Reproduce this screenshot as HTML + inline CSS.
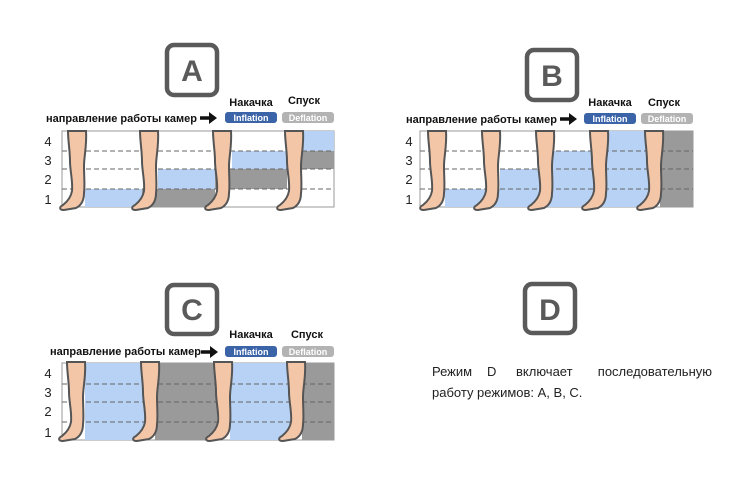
<!DOCTYPE html>
<html><head><meta charset="utf-8"><style>
html,body{margin:0;padding:0;background:#fff;}
svg{display:block;}
text{font-family:"Liberation Sans","DejaVu Sans",sans-serif;}
</style></head><body>
<svg width="746" height="496" viewBox="0 0 746 496" xmlns="http://www.w3.org/2000/svg">
<defs>
<path id="leg" d="M0,0 L18,0 C19,15 16,25 16,35 C16,45 17,55 16,62 C16,68 14,74 8,77 L-4,79 C-9,79 -9,76 -5,74 C0,70 3,66 4,60 C5,50 2,40 2,30 C2,20 0,10 0,0 Z" fill="#f3c6a8" stroke="#555" stroke-width="2"/>
<path id="arr" d="M0,-1.8 L9,-1.8 L9,-6 L17,0 L9,6 L9,1.8 L0,1.8 Z" fill="#111"/>
</defs>

<g fill="none" stroke="#5a5a5a" stroke-width="4.5">
<rect x="167" y="45" width="50" height="50" rx="7"/>
<rect x="527" y="50" width="50" height="50" rx="7"/>
<rect x="167" y="285" width="50" height="49" rx="7"/>
<rect x="525" y="284" width="50" height="49" rx="7"/>
</g>
<g fill="#5a5a5a" font-size="30" font-weight="bold" text-anchor="middle">
<text x="192" y="81">A</text>
<text x="552" y="86">B</text>
<text x="192" y="320">C</text>
<text x="550" y="320">D</text>
</g>

<!-- Panel A -->
<g>
<rect x="62" y="131" width="272" height="76" fill="#fff" stroke="#999"/>
<rect x="85" y="189" width="57" height="18" fill="#b8d2f5"/>
<rect x="142" y="189" width="73" height="18" fill="#9a9a9a"/>
<rect x="158" y="169" width="57" height="20" fill="#b8d2f5"/>
<rect x="215" y="169" width="72" height="20" fill="#9a9a9a"/>
<rect x="232" y="151" width="55" height="18" fill="#b8d2f5"/>
<rect x="287" y="151" width="47" height="18" fill="#9a9a9a"/>
<rect x="303" y="131" width="31" height="20" fill="#b8d2f5"/>
<g stroke="#666" stroke-dasharray="5,3"><line x1="62" y1="151" x2="334" y2="151"/><line x1="62" y1="169" x2="334" y2="169"/><line x1="62" y1="189" x2="334" y2="189"/></g>
<use href="#leg" x="68" y="131"/><use href="#leg" x="140" y="131"/><use href="#leg" x="213" y="131"/><use href="#leg" x="285" y="131"/>
<g font-size="13" text-anchor="middle" fill="#222"><text x="48" y="146">4</text><text x="48" y="165">3</text><text x="48" y="184">2</text><text x="48" y="204">1</text></g>
<text x="46" y="122" font-size="11" font-weight="bold" fill="#111">направление работы камер</text>
<use href="#arr" x="200" y="118"/>
<text x="251" y="106" font-size="11" font-weight="bold" text-anchor="middle" fill="#111">Накачка</text>
<text x="304" y="104" font-size="11" font-weight="bold" text-anchor="middle" fill="#111">Спуск</text>
<rect x="225" y="112" width="52" height="11" rx="3" fill="#3a63a8"/><text x="251" y="121" font-size="9" font-weight="bold" fill="#fff" text-anchor="middle">Inflation</text>
<rect x="282" y="112" width="52" height="11" rx="3" fill="#b3b3b3"/><text x="308" y="121" font-size="9" font-weight="bold" fill="#fff" text-anchor="middle">Deflation</text>
</g>

<!-- Panel B -->
<g>
<rect x="420" y="131" width="273" height="76" fill="#fff" stroke="#999"/>
<rect x="445" y="189" width="205" height="18" fill="#b8d2f5"/>
<rect x="500" y="169" width="150" height="20" fill="#b8d2f5"/>
<rect x="553" y="151" width="97" height="18" fill="#b8d2f5"/>
<rect x="606" y="131" width="44" height="20" fill="#b8d2f5"/>
<rect x="660" y="131" width="33" height="76" fill="#9a9a9a"/>
<g stroke="#666" stroke-dasharray="5,3"><line x1="420" y1="151" x2="693" y2="151"/><line x1="420" y1="169" x2="693" y2="169"/><line x1="420" y1="189" x2="693" y2="189"/></g>
<use href="#leg" x="428" y="131"/><use href="#leg" x="482" y="131"/><use href="#leg" x="536" y="131"/><use href="#leg" x="590" y="131"/><use href="#leg" x="645" y="131"/>
<g font-size="13" text-anchor="middle" fill="#222"><text x="409" y="146">4</text><text x="409" y="165">3</text><text x="409" y="184">2</text><text x="409" y="204">1</text></g>
<text x="406" y="123" font-size="11" font-weight="bold" fill="#111">направление работы камер</text>
<use href="#arr" x="560" y="119"/>
<text x="610" y="106" font-size="11" font-weight="bold" text-anchor="middle" fill="#111">Накачка</text>
<text x="664" y="106" font-size="11" font-weight="bold" text-anchor="middle" fill="#111">Спуск</text>
<rect x="584" y="113" width="52" height="11" rx="3" fill="#3a63a8"/><text x="610" y="122" font-size="9" font-weight="bold" fill="#fff" text-anchor="middle">Inflation</text>
<rect x="641" y="113" width="52" height="11" rx="3" fill="#b3b3b3"/><text x="667" y="122" font-size="9" font-weight="bold" fill="#fff" text-anchor="middle">Deflation</text>
</g>

<!-- Panel C -->
<g>
<rect x="62" y="363" width="272" height="77" fill="#fff" stroke="#999"/>
<rect x="85" y="363" width="60" height="77" fill="#b8d2f5"/>
<rect x="155" y="363" width="62" height="77" fill="#9a9a9a"/>
<rect x="230" y="363" width="60" height="77" fill="#b8d2f5"/>
<rect x="302" y="363" width="32" height="77" fill="#9a9a9a"/>
<g stroke="#666" stroke-dasharray="5,3"><line x1="62" y1="384" x2="334" y2="384"/><line x1="62" y1="402" x2="334" y2="402"/><line x1="62" y1="422" x2="334" y2="422"/></g>
<use href="#leg" x="67" y="362"/><use href="#leg" x="141" y="362"/><use href="#leg" x="214" y="362"/><use href="#leg" x="287" y="362"/>
<g font-size="13" text-anchor="middle" fill="#222"><text x="48" y="378">4</text><text x="48" y="397">3</text><text x="48" y="416">2</text><text x="48" y="437">1</text></g>
<text x="50" y="355" font-size="11" font-weight="bold" fill="#111">направление работы камер</text>
<use href="#arr" x="201" y="352"/>
<text x="251" y="338" font-size="11" font-weight="bold" text-anchor="middle" fill="#111">Накачка</text>
<text x="307" y="338" font-size="11" font-weight="bold" text-anchor="middle" fill="#111">Спуск</text>
<rect x="225" y="346" width="52" height="11" rx="3" fill="#3a63a8"/><text x="251" y="355" font-size="9" font-weight="bold" fill="#fff" text-anchor="middle">Inflation</text>
<rect x="282" y="346" width="52" height="11" rx="3" fill="#b3b3b3"/><text x="308" y="355" font-size="9" font-weight="bold" fill="#fff" text-anchor="middle">Deflation</text>
</g>

<g font-size="13" fill="#222">
<text x="432" y="376">Режим</text>
<text x="487" y="376">D</text>
<text x="516" y="376">включает</text>
<text x="712" y="376" text-anchor="end">последовательную</text>
<text x="432" y="397">работу режимов: А, В, С.</text>
</g>
</svg>
</body></html>
